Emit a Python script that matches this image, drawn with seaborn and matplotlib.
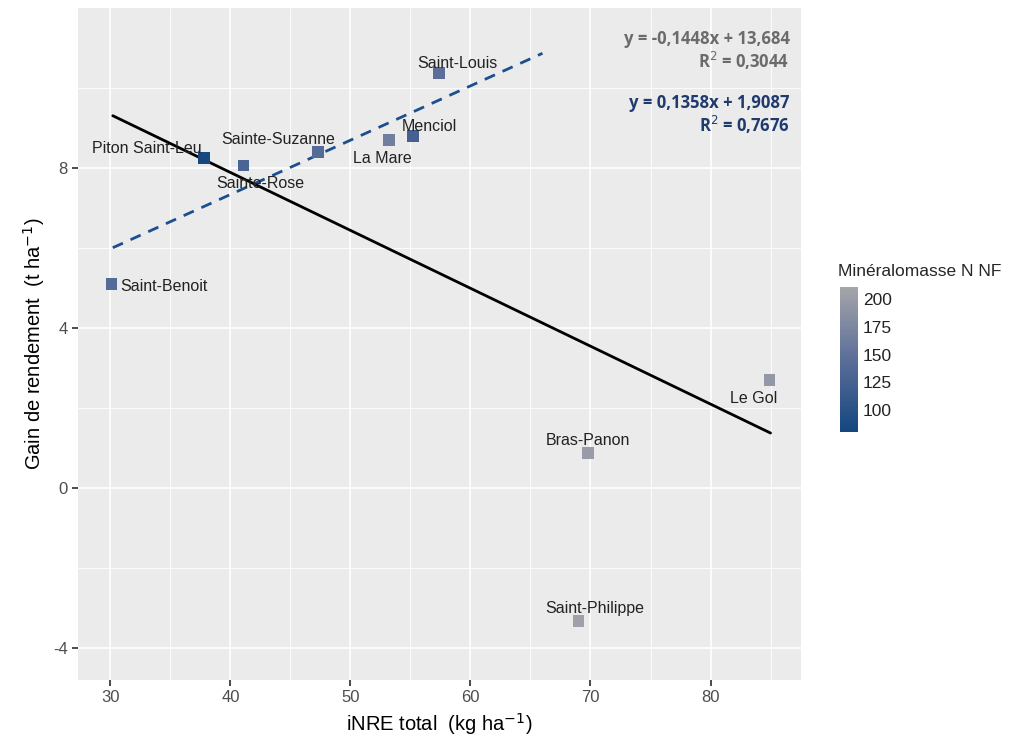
import numpy as np
import pandas as pd
import matplotlib
import matplotlib.pyplot as plt
import seaborn as sns
from matplotlib.colors import LinearSegmentedColormap, Normalize

# data
sites = ["Saint-Louis", "Piton Saint-Leu", "Sainte-Rose", "Sainte-Suzanne", "La Mare",
         "Menciol", "Saint-Benoit", "Le Gol", "Bras-Panon", "Saint-Philippe"]
inre = [57.4, 37.8, 41.1, 47.3, 53.2, 55.2, 30.1, 84.9, 69.8, 69.0]
gain = [10.38, 8.25, 8.07, 8.4, 8.7, 8.8, 5.1, 2.7, 0.88, -3.33]
mineralomasse = [145, 82, 130, 140, 165, 125, 140, 195, 200, 205]

# regression lines (slope, intercept, x range)
fit_all = [-0.1448, 13.684]
fit_all_x = [30.2, 85.0]
fit_sub = [0.1358, 1.9087]
fit_sub_x = [30.2, 66.0]

df = pd.DataFrame({"site": sites, "inre": inre, "gain": gain, "mineral": mineralomasse})

sns.set_theme(style="darkgrid")
plt.rcParams["font.family"] = ["Liberation Sans", "DejaVu Sans"]
plt.rcParams["axes.facecolor"] = "#EBEBEB"
plt.rcParams["axes.unicode_minus"] = False

cmap = LinearSegmentedColormap.from_list("mnf", ["#14467f", "#5b6e99", "#a5a5aa"])
norm = Normalize(vmin=80, vmax=211)

fig = plt.figure(figsize=(10.22, 7.44), dpi=100)
ax = fig.add_axes([0.0763, 0.086, 0.707, 0.903])

# lines
xs = np.linspace(fit_all_x[0], fit_all_x[1], 50)
sns.lineplot(x=xs, y=fit_all[0] * xs + fit_all[1], ax=ax, color="black", lw=2.0)
xs2 = np.linspace(fit_sub_x[0], fit_sub_x[1], 50)
sns.lineplot(x=xs2, y=fit_sub[0] * xs2 + fit_sub[1], ax=ax, color="#1c4f8f", lw=2.0,
             linestyle=(0, (4, 3)))

sns.scatterplot(data=df, x="inre", y="gain", hue="mineral", hue_norm=norm, palette=cmap,
                marker="s", s=70, edgecolor="none", legend=False, ax=ax, zorder=3)

# label offsets in points
offsets = {"Saint-Louis": (13, 7), "Piton Saint-Leu": (-41, 7), "Sainte-Rose": (12, -13),
           "Sainte-Suzanne": (-29, 9), "La Mare": (-5, -13), "Menciol": (12, 7),
           "Saint-Benoit": (38, -2), "Le Gol": (-11, -13), "Bras-Panon": (0, 9),
           "Saint-Philippe": (12, 9)}
for s, x, y in zip(sites, inre, gain):
    ax.annotate(s, (x, y), xytext=offsets[s], textcoords="offset points",
                ha="center", va="center", fontsize=11.5, color="#222222", zorder=4)

ax.set_xlim(27.3, 87.5)
ax.set_ylim(-4.8, 12)
ax.set_xticks([30, 40, 50, 60, 70, 80])
ax.set_yticks([-4, 0, 4, 8])
ax.set_xticks([35, 45, 55, 65, 75, 85], minor=True)
ax.set_yticks([-2, 2, 6, 10], minor=True)
ax.grid(which="major", color="white", lw=1.2)
ax.grid(which="minor", color="white", lw=0.6)
ax.tick_params(axis="both", which="major", labelsize=12, labelcolor="#4d4d4d",
               length=4, color="#333333", direction="out", bottom=True, left=True)
ax.tick_params(which="minor", length=0)
for sp in ax.spines.values():
    sp.set_visible(False)

ax.set_xlabel("iNRE total  (kg ha$^{-1}$)", fontsize=14.5, color="black")
ax.set_ylabel("Gain de rendement  (t ha$^{-1}$)", fontsize=14.5, color="black")

eqfont = ["Open Sans", "DejaVu Sans"]
ax.text(0.985, 0.968, "y = -0,1448x + 13,684\nR$^{2}$ = 0,3044", transform=ax.transAxes,
        ha="right", va="top", fontsize=12, fontweight="bold", color="#6b6b6b",
        family=eqfont, linespacing=1.1)
ax.text(0.985, 0.872, "y = 0,1358x + 1,9087\nR$^{2}$ = 0,7676", transform=ax.transAxes,
        ha="right", va="top", fontsize=12, fontweight="bold", color="#1f3b6e",
        family=eqfont, linespacing=1.1)

# colorbar
cax = fig.add_axes([0.822, 0.419, 0.0176, 0.195])
sm = matplotlib.cm.ScalarMappable(norm=norm, cmap=cmap)
cb = fig.colorbar(sm, cax=cax)
cb.set_ticks([100, 125, 150, 175, 200])
cb.outline.set_visible(False)
cb.ax.tick_params(labelsize=12.5, length=3, color="white", direction="in", width=1,
                  labelcolor="#222222", left=True)
fig.text(0.82, 0.625, "Minéralomasse N NF", fontsize=12.5, ha="left", va="bottom")

plt.savefig("out.png", dpi=100)
